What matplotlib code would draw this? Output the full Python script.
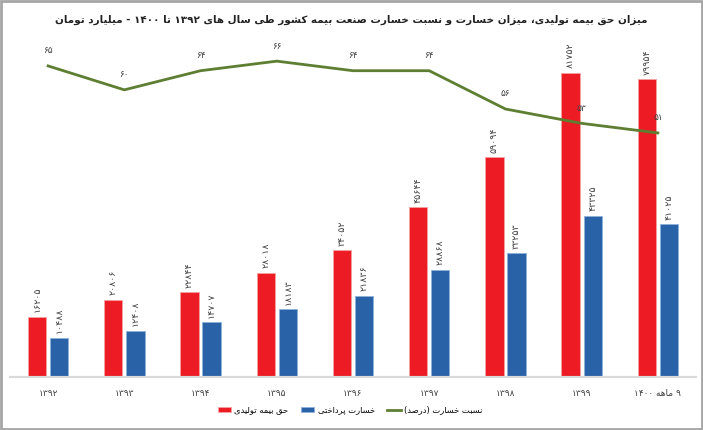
import matplotlib
matplotlib.use("Agg")
import matplotlib.pyplot as plt
from matplotlib.patches import Rectangle
import numpy as np

plt.rcParams["font.family"] = ["DejaVu Sans"]

# data
years = ["۱۳۹۲", "۱۳۹۳", "۱۳۹۴", "۱۳۹۵", "۱۳۹۶", "۱۳۹۷", "۱۳۹۸", "۱۳۹۹", "۹ ماهه ۱۴۰۰"]
premium = [16205, 20806, 22844, 28018, 34052, 45644, 59094, 81752, 79954]
claims = [10488, 12408, 14707, 18183, 21836, 28868, 33253, 43325, 41025]
loss_ratio = [65, 60, 64, 66, 64, 64, 56, 53, 51]

title = "میزان حق بیمه تولیدی، میزان خسارت و نسبت خسارت صنعت بیمه کشور طی سال های ۱۳۹۲ تا ۱۴۰۰ - میلیارد تومان"
legend_labels = ["حق بیمه تولیدی", "خسارت پرداختی", "نسبت خسارت (درصد)"]

# minimal persian shaping: (isolated, final, initial, medial)
FORMS = {
    "ا": (0xFE8D, 0xFE8E), "آ": (0xFE81, 0xFE82), "د": (0xFEA9, 0xFEAA),
    "ذ": (0xFEAB, 0xFEAC), "ر": (0xFEAD, 0xFEAE), "ز": (0xFEAF, 0xFEB0),
    "ژ": (0xFB8A, 0xFB8B), "و": (0xFEED, 0xFEEE),
    "ب": (0xFE8F, 0xFE90, 0xFE91, 0xFE92), "پ": (0xFB56, 0xFB57, 0xFB58, 0xFB59),
    "ت": (0xFE95, 0xFE96, 0xFE97, 0xFE98), "ث": (0xFE99, 0xFE9A, 0xFE9B, 0xFE9C),
    "ج": (0xFE9D, 0xFE9E, 0xFE9F, 0xFEA0), "چ": (0xFB7A, 0xFB7B, 0xFB7C, 0xFB7D),
    "ح": (0xFEA1, 0xFEA2, 0xFEA3, 0xFEA4), "خ": (0xFEA5, 0xFEA6, 0xFEA7, 0xFEA8),
    "س": (0xFEB1, 0xFEB2, 0xFEB3, 0xFEB4), "ش": (0xFEB5, 0xFEB6, 0xFEB7, 0xFEB8),
    "ص": (0xFEB9, 0xFEBA, 0xFEBB, 0xFEBC), "ض": (0xFEBD, 0xFEBE, 0xFEBF, 0xFEC0),
    "ط": (0xFEC1, 0xFEC2, 0xFEC3, 0xFEC4), "ظ": (0xFEC5, 0xFEC6, 0xFEC7, 0xFEC8),
    "ع": (0xFEC9, 0xFECA, 0xFECB, 0xFECC), "غ": (0xFECD, 0xFECE, 0xFECF, 0xFED0),
    "ف": (0xFED1, 0xFED2, 0xFED3, 0xFED4), "ق": (0xFED5, 0xFED6, 0xFED7, 0xFED8),
    "ک": (0xFB8E, 0xFB8F, 0xFB90, 0xFB91), "گ": (0xFB92, 0xFB93, 0xFB94, 0xFB95),
    "ل": (0xFEDD, 0xFEDE, 0xFEDF, 0xFEE0), "م": (0xFEE1, 0xFEE2, 0xFEE3, 0xFEE4),
    "ن": (0xFEE5, 0xFEE6, 0xFEE7, 0xFEE8), "ه": (0xFEE9, 0xFEEA, 0xFEEB, 0xFEEC),
    "ی": (0xFBFC, 0xFBFD, 0xFBFE, 0xFBFF),
}
MIRROR = {"(": ")", ")": "("}


def shape_word(word):
    out = []
    for i, ch in enumerate(word):
        if ch not in FORMS:
            out.append(MIRROR.get(ch, ch))
            continue
        f = FORMS[ch]
        prev = word[i - 1] if i > 0 else ""
        nxt = word[i + 1] if i + 1 < len(word) else ""
        join_prev = prev in FORMS and len(FORMS[prev]) == 4
        join_next = len(f) == 4 and nxt in FORMS
        if join_prev and join_next:
            out.append(chr(f[3]))
        elif join_prev:
            out.append(chr(f[1]))
        elif join_next:
            out.append(chr(f[2]))
        else:
            out.append(chr(f[0]))
    return "".join(reversed(out))


def fa(text):
    words = []
    for w in text.split(" "):
        if any(c in FORMS for c in w):
            words.append(shape_word(w))
        else:
            words.append(w)
    return " ".join(reversed(words))


def fa_num(n):
    return str(n).translate(str.maketrans("0123456789", "۰۱۲۳۴۵۶۷۸۹"))


red = "#ED1C24"
blue = "#2A62A8"
green = "#5E7F32"

fig = plt.figure(figsize=(7.03, 4.30), dpi=100)
ax = fig.add_axes([10 / 703, 53 / 430, 686 / 703, 335 / 430])
ax2 = ax.twinx()

x = np.arange(len(years))
w = 0.24
off = 0.145
ax.bar(x - off, premium, w, color=red, edgecolor="#F5A0A0", linewidth=0.6, label=fa(legend_labels[0]))
ax.bar(x + off, claims, w, color=blue, edgecolor="#8FB0D8", linewidth=0.6, label=fa(legend_labels[1]))
for xi, v in zip(x, premium):
    ax.text(xi - off, v + 1200, fa_num(v), rotation=90, ha="center", va="bottom", fontsize=6.8, color="#404040")
for xi, v in zip(x, claims):
    ax.text(xi + off, v + 1200, fa_num(v), rotation=90, ha="center", va="bottom", fontsize=6.8, color="#404040")

ax2.plot(x, loss_ratio, color=green, linewidth=2, label=fa(legend_labels[2]))
for xi, v in zip(x, loss_ratio):
    ax2.text(xi, v + 2.2, fa_num(v), ha="center", va="bottom", fontsize=6.5, color="#404040")

ax.set_xlim(-0.5, 8.5)
ax.set_ylim(0, 90000)
ax2.set_ylim(0, 70)
ax.set_xticks(x)
ax.set_xticklabels([fa(y) for y in years], fontsize=6.5, color="#404040")
ax.tick_params(axis="x", length=0, pad=9)
ax.set_yticks([])
ax2.set_yticks([])
for a in (ax, ax2):
    for s in ["top", "left", "right"]:
        a.spines[s].set_visible(False)
    a.spines["bottom"].set_color("#D9D9D9")
    a.spines["bottom"].set_linewidth(1.5)

fig.text(0.5, 1 - 20 / 430, fa(title), ha="center", va="center", fontsize=7.5, fontweight="bold", color="#222222")

h1, l1 = ax.get_legend_handles_labels()
h2, l2 = ax2.get_legend_handles_labels()
fig.legend(h1 + h2, l1 + l2, loc="center", bbox_to_anchor=(0.498, 1 - 410 / 430), ncol=3,
           frameon=False, fontsize=6, handlelength=1.6, handleheight=0.6, columnspacing=1.5, handletextpad=0.4)

fig.patches.append(Rectangle((0.002, 0.003), 0.996, 0.994, transform=fig.transFigure, fill=False,
                             edgecolor="#A6A6A6", linewidth=2))

fig.savefig("out.png", dpi=100)
